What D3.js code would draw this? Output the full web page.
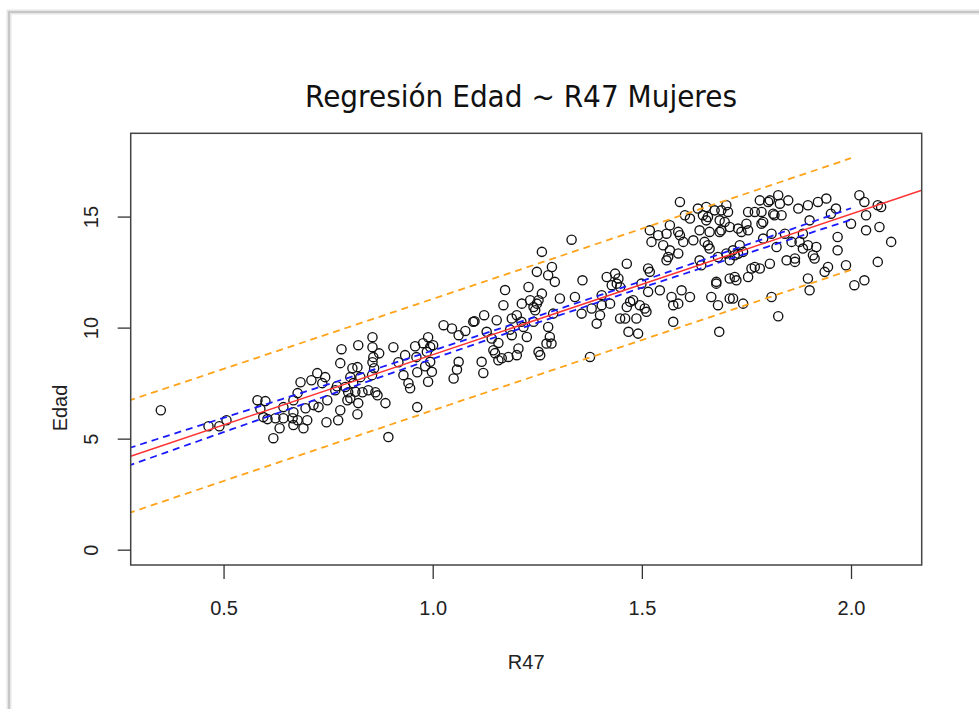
<!DOCTYPE html>
<html><head><meta charset="utf-8">
<script src="https://cdn.jsdelivr.net/npm/d3@7"></script>
<style>body{margin:0;background:#fff}svg{display:block}</style>
</head><body>
<svg id="c" width="979" height="709"></svg>
<script>
// ---- data ----
const r47 = [
 // x < 0.99
 0.35,0.464,0.49,0.507,0.581,0.60,0.588,0.595,0.605,0.619,0.624,0.643,0.643,0.634,0.667,0.677,0.684,0.667,0.665,0.667,
 0.677,0.691,0.70,0.696,0.71,0.724,0.736,0.743,0.715,0.727,0.748,0.746,0.767,0.779,0.782,0.774,0.779,0.796,0.798,0.803,
 0.808,0.82,0.822,0.82,0.822,0.81,0.803,0.832,0.846,0.856,0.856,0.856,0.858,0.872,0.86,0.863,0.868,0.887,0.894,0.906,
 0.918,0.934,0.93,0.942,0.946,0.958,0.961,0.963,0.963,0.827,0.855,0.771,0.791,0.815,0.982,
 // 0.97 - 1.25
 0.977,0.989,0.994,0.986,1.001,0.994,0.998,0.989,1.026,1.046,1.062,1.078,1.097,1.10,1.123,1.062,1.058,1.05,1.117,1.121,
 1.129,1.141,1.153,1.157,1.145,1.149,1.157,1.165,1.169,1.173,1.189,1.189,1.181,1.201,1.205,1.213,1.225,1.217,1.229,1.233,
 1.241,1.249,1.245,1.241,1.249,1.185,1.201,1.212,1.253,
 // 1.25 - 1.71
 1.261,1.261,1.276,1.285,1.292,1.288,1.276,1.28,1.272,1.284,1.253,1.257,1.304,1.332,1.340,1.356,1.358,1.376,1.38,1.392,
 1.40,1.404,1.404,1.416,1.428,1.436,1.444,1.448,1.464,1.448,1.46,1.464,1.472,1.479,1.468,1.487,1.491,1.495,1.507,1.515,
 1.519,1.499,1.515,1.519,1.523,1.539,1.543,1.551,1.559,1.559,1.567,1.567,1.571,1.575,1.575,1.587,1.587,1.591,1.595,1.587,
 1.599,1.603,1.615,1.615,1.623,1.634,1.638,1.638,1.642,1.646,1.65,1.654,1.654,1.658,1.662,1.662,1.666,1.678,1.682,1.685,
 1.674,1.686,1.69,1.698,1.702,1.71,1.71,1.702,1.71,1.591,1.563,1.44,1.424,1.511,
 // > 1.69
 1.706,1.69,1.718,1.722,1.734,1.742,1.73,1.738,1.75,1.754,1.754,1.77,1.782,1.786,1.786,1.79,1.802,1.814,1.81,1.822,
 1.826,1.83,1.834,1.842,1.85,1.846,1.858,1.866,1.866,1.874,1.877,1.885,1.885,1.897,1.897,1.901,1.897,1.901,1.909,1.913,
 1.917,1.921,1.941,1.937,1.945,1.952,1.964,1.968,1.968,1.988,2.0,2.008,2.02,2.032,2.036,2.036,2.032,2.064,2.072,2.068,
 2.064,2.096,1.81,1.826,1.742,1.718,1.722,1.726,1.754,1.762,1.782,1.806,1.678,1.682,1.686,1.71,1.658,1.806,1.817,1.79,
 1.77,1.73
];
const edad = [
 6.28,5.56,5.56,5.83,6.73,6.69,6.33,5.97,5.88,5.02,5.92,6.42,5.92,5.47,6.73,7.05,7.54,6.19,5.92,5.61,
 5.83,5.47,5.83,6.37,7.63,7.95,7.50,7.77,6.51,6.42,6.73,5.74,7.18,8.40,9.03,5.83,6.28,6.73,7.09,7.77,
 8.17,8.22,9.21,6.10,6.60,7.50,6.82,7.09,7.18,9.57,9.12,8.44,8.67,8.84,8.17,7.09,6.95,6.60,5.07,9.12,
 8.44,8.76,7.86,7.50,7.27,9.16,8.67,7.99,6.42,7.77,7.86,7.36,7.33,7.11,8.26,
 9.30,9.57,9.13,8.91,9.21,8.46,8.01,7.56,10.11,9.96,9.66,9.85,10.26,10.29,10.56,8.46,8.11,7.71,8.46,7.96,
 9.81,9.51,10.33,9.31,8.98,8.85,8.53,8.62,11.01,11.69,10.41,9.66,8.68,8.76,9.06,11.08,9.58,10.03,11.83,11.23,
 10.93,11.08,10.78,10.26,12.51,9.91,10.56,10.26,11.23,
 13.41,11.53,12.36,12.73,12.06,10.63,10.03,9.58,9.28,9.28,8.91,8.76,11.31,13.96,11.38,10.63,12.13,8.68,10.86,10.18,
 10.56,11.01,11.46,12.28,11.91,12.43,12.21,11.83,12.88,10.41,10.41,10.93,11.16,11.23,9.81,10.41,9.73,11.01,10.86,12.66,
 12.51,11.98,11.61,14.38,13.86,14.16,11.68,13.71,14.23,13.03,14.61,13.48,11.38,11.01,10.26,14.31,13.34,15.66,11.68,11.08,
 13.86,15.06,14.91,11.38,13.93,15.36,13.03,14.38,12.81,15.06,13.86,15.43,14.83,13.71,13.56,14.31,11.38,12.06,11.01,9.81,
 15.28,14.31,15.28,14.76,15.51,11.31,12.21,13.34,13.03,14.16,13.18,11.98,11.08,10.71,
 15.21,14.38,13.48,13.26,13.71,13.41,14.46,14.31,14.68,14.38,15.21,15.21,15.73,15.21,14.68,14.01,15.66,15.13,14.23,13.63,
 15.96,15.58,15.06,14.23,15.73,13.03,13.86,13.11,12.96,15.36,13.86,14.23,13.56,15.51,13.71,14.83,12.21,11.68,13.26,13.11,
 13.63,15.66,15.81,12.51,12.73,15.13,15.36,14.08,13.48,12.81,14.68,11.91,15.96,15.66,15.06,14.38,12.13,15.51,15.43,14.53,
 12.96,13.86,11.38,10.51,11.08,11.31,12.28,12.13,12.28,12.66,12.66,12.88,11.98,13.18,14.83,14.53,14.98,15.73,15.06,14.76,
 12.73,13.33
];
const xTicks = [0.5, 1.0, 1.5, 2.0];
const yTicks = [0, 5, 10, 15];
const xDomain = [0.278, 2.169];
const yDomain = [-0.69, 18.75];
const bandRange = [0.0, 2.0];   // x range over which the bands were evaluated
const titleText = "Regresión Edad ~ R47 Mujeres";
const xLabel = "R47", yLabel = "Edad";

// ---- layout ----
const svg = d3.select("#c");
const L = 130.7, R = 921.7, T = 133.3, B = 565;
const x = d3.scaleLinear().domain(xDomain).range([L, R]);
const y = d3.scaleLinear().domain(yDomain).range([B, T]);

// window frame of the screenshot
svg.append("path").attr("d", "M9,709V12H979").attr("fill","none").attr("stroke","#e6e6e6").attr("stroke-width",5);
svg.append("path").attr("d", "M9,709V12H979").attr("fill","none").attr("stroke","#bdbdbd").attr("stroke-width",1.5);

// ---- linear model ----
const n = Math.min(r47.length, edad.length);
const pts = d3.range(n).map(i => [r47[i], edad[i]]);
const mx = d3.mean(pts, d => d[0]), my = d3.mean(pts, d => d[1]);
const sxx = d3.sum(pts, d => (d[0]-mx)**2);
const sxy = d3.sum(pts, d => (d[0]-mx)*(d[1]-my));
const b1 = sxy/sxx, b0 = my - b1*mx;
const s = Math.sqrt(d3.sum(pts, d => (d[1]-b0-b1*d[0])**2)/(n-2));
const df = n-2, z = 1.959964;
const tq = z + (z**3+z)/(4*df) + (5*z**5+16*z**3+3*z)/(96*df*df);
const grid = d3.range(bandRange[0], bandRange[1]+1e-9, 0.02);
const band = grid.map(g => {
  const fit = b0 + b1*g;
  const se = s*Math.sqrt(1/n + (g-mx)**2/sxx);
  const sp = s*Math.sqrt(1 + 1/n + (g-mx)**2/sxx);
  return {g, lwrC: fit - tq*se, uprC: fit + tq*se, lwrP: fit - tq*sp, uprP: fit + tq*sp};
});

svg.append("defs").append("clipPath").attr("id","clip")
  .append("rect").attr("x",L).attr("y",T).attr("width",R-L).attr("height",B-T);

// points
svg.append("g").selectAll("circle").data(pts).join("circle")
  .attr("cx", d => x(d[0])).attr("cy", d => y(d[1])).attr("r", 4.6)
  .attr("fill","none").attr("stroke","#111").attr("stroke-width",1.35);

const lg = svg.append("g").attr("clip-path","url(#clip)");
// regression line (abline)
lg.append("line").attr("x1", x(xDomain[0])).attr("x2", x(xDomain[1]))
  .attr("y1", y(b0+b1*xDomain[0])).attr("y2", y(b0+b1*xDomain[1]))
  .attr("stroke","#f33").attr("stroke-width",1.5);
const mk = key => d3.line().x(d => x(d.g)).y(d => y(d[key]));
[["lwrC","#1a1aff"],["uprC","#1a1aff"],["lwrP","#ffa31a"],["uprP","#ffa31a"]].forEach(([k,c]) => {
  lg.append("path").datum(band).attr("d", mk(k)).attr("fill","none")
    .attr("stroke", c).attr("stroke-width",1.8).attr("stroke-dasharray","7,5");
});

// box
svg.append("rect").attr("x",L).attr("y",T).attr("width",R-L).attr("height",B-T)
  .attr("fill","none").attr("stroke","#444").attr("stroke-width",1.5);

// axes
const font = "'Liberation Sans', Arial, sans-serif";
const gx = svg.append("g").attr("transform",`translate(0,${B})`)
  .call(d3.axisBottom(x).tickValues(xTicks).tickSize(14).tickPadding(22).tickFormat(d3.format(".1f")));
gx.select(".domain").remove();
gx.selectAll("line").attr("stroke","#333").attr("stroke-width",1.3);
gx.selectAll("text").attr("font-family",font).attr("font-size",20).attr("fill","#222");

const gy = svg.append("g").attr("transform",`translate(${L},0)`)
  .call(d3.axisLeft(y).tickValues(yTicks).tickSize(13).tickFormat(d3.format("d")));
gy.select(".domain").remove();
gy.selectAll("line").attr("stroke","#333").attr("stroke-width",1.3);
gy.selectAll("text").attr("font-family",font).attr("font-size",20).attr("fill","#222")
  .attr("x",0).attr("y",-33).attr("dy",0).attr("text-anchor","middle").attr("transform","rotate(-90)");

// labels
svg.append("text").attr("x",(L+R)/2).attr("y",669).attr("text-anchor","middle")
  .attr("font-family",font).attr("font-size",20).attr("fill","#222").text(xLabel);
svg.append("text").attr("transform",`translate(67,408) rotate(-90)`).attr("text-anchor","middle")
  .attr("font-family",font).attr("font-size",20).attr("fill","#222").text(yLabel);
svg.append("text").attr("x",521).attr("y",107).attr("text-anchor","middle")
  .attr("font-family","'DejaVu Sans', sans-serif").attr("font-size",30).attr("fill","#111")
  .attr("textLength",432).attr("lengthAdjust","spacingAndGlyphs").text(titleText);
</script>
</body></html>
